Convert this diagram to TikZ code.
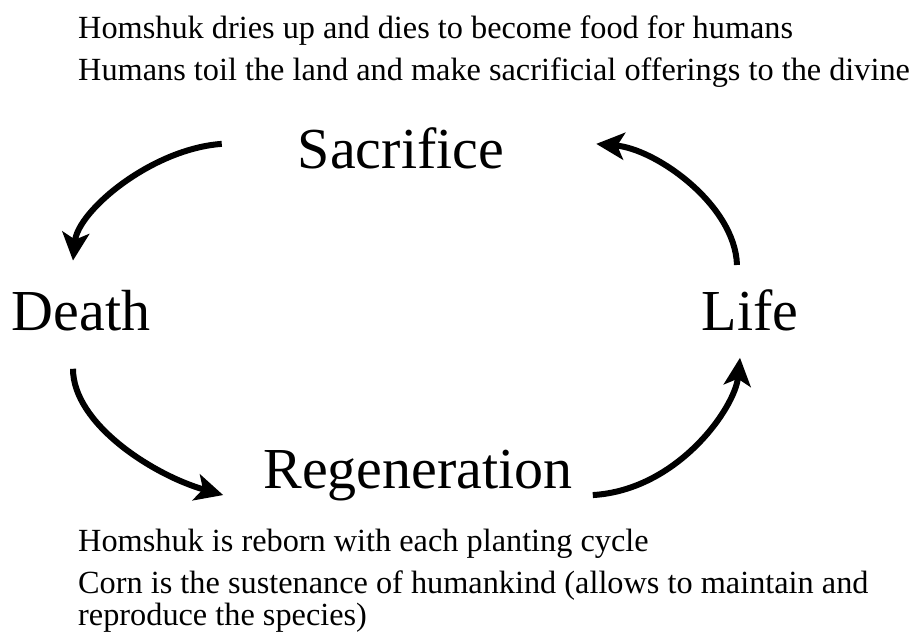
\documentclass[tikz,border=0pt]{standalone}
\usepackage{fontspec}
\setmainfont{Liberation Serif}
\usetikzlibrary{arrows.meta,calc}
\tikzset{
  big/.style={inner sep=0pt, anchor=base, font=\fontsize{58}{60}\selectfont},
  note/.style={inner sep=0pt, anchor=base west, font=\fontsize{32.3}{34}\selectfont},
  cyc/.style={line width=6pt, -{Stealth[length=28pt,width=27pt,inset=7pt]}},
}
\begin{document}
\begin{tikzpicture}[x=1pt,y=-1pt]
\path[use as bounding box] (0,0) rectangle (916,633);
\node[note] (t1) at (78,38) {Homshuk dries up and dies to become food for humans};
\node[note] (t2) at (78,80) {Humans toil the land and make sacrificial offerings to the divine};
\node[big] (sac) at (401,168) {Sacrifice};
\node[big] (death) at (81,330) {Death};
\node[big] (life) at (750,330) {Life};
\node[big] (regen) at (418,488) {Regeneration};
\node[note] (b1) at (78,551) {Homshuk is reborn with each planting cycle};
\node[note] (b2) at (78,593) {Corn is the sustenance of humankind (allows to maintain and};
\node[note] (b3) at (78,625) {reproduce the species)};
\draw[cyc] ($(sac.west)+(-76,-4)$) .. controls +(-70,5) and +(5,-50) .. ($(death.north)+(-8,-29)$);
\draw[cyc] ($(life.north)+(-13,-24)$) .. controls +(-2,-60) and +(60,5) .. ($(sac.east)+(92,-4)$);
\draw[cyc] ($(death.south)+(-8,38)$) .. controls +(0,55) and +(-70,-20) .. ($(regen.west)+(-40,20)$);
\draw[cyc] ($(regen.east)+(20,20)$) .. controls +(85,-5) and +(-5,50) .. ($(life.south)+(-10,27)$);
\end{tikzpicture}
\end{document}
